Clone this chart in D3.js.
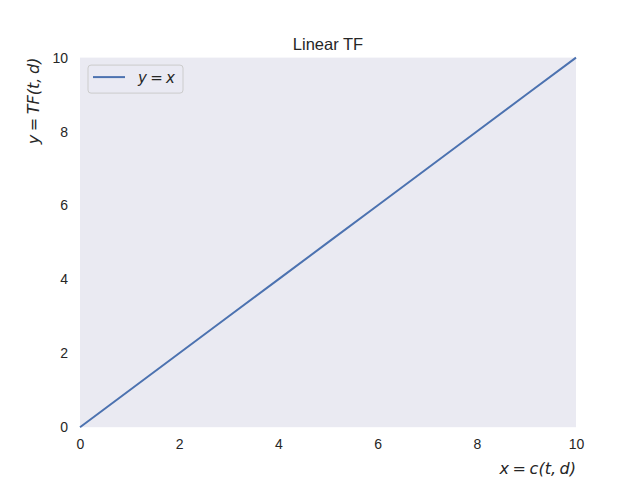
<!DOCTYPE html>
<html lang="en">
<head>
    <meta charset="UTF-8">
    <title>Linear TF</title>
    <style>
        body { margin: 0; background: #fff; }
        .tick text { font-family: "Liberation Sans", Arial, sans-serif; font-size: 14px; fill: #262626; }
        .math { font-family: "DejaVu Sans", sans-serif; font-style: italic; fill: #262626; word-spacing: -1.5px; }
    </style>
</head>
<body>
    <div id="chart"></div>
    <script src="https://d3js.org/d3.v7.min.js"></script>
    <script>
        // data: y = x
        var xValues = [0, 1, 2, 3, 4, 5, 6, 7, 8, 9, 10];
        var yValues = [0, 1, 2, 3, 4, 5, 6, 7, 8, 9, 10];
        var tickValues = [0, 2, 4, 6, 8, 10];

        var margin = { top: 57.6, right: 64, bottom: 52.8, left: 80 },
            width = 640 - margin.left - margin.right,
            height = 480 - margin.top - margin.bottom;

        var svg = d3.select("#chart")
            .append("svg")
            .attr("width", 640)
            .attr("height", 480);

        var g = svg.append("g")
            .attr("transform", "translate(" + margin.left + "," + margin.top + ")");

        // axes background
        g.append("rect")
            .attr("width", width)
            .attr("height", height)
            .attr("fill", "#eaeaf2");

        var x = d3.scaleLinear().domain([0, 10]).range([0, width]);
        var y = d3.scaleLinear().domain([0, 10]).range([height, 0]);

        var xAxis = g.append("g")
            .attr("transform", "translate(0," + height + ")")
            .call(d3.axisBottom(x).tickValues(tickValues).tickSize(0).tickPadding(12));
        xAxis.select(".domain").remove();

        var yAxis = g.append("g")
            .call(d3.axisLeft(y).tickValues(tickValues).tickSize(0).tickPadding(12));
        yAxis.select(".domain").remove();

        var points = xValues.map(function (d, i) { return [d, yValues[i]]; });

        g.append("path")
            .datum(points)
            .attr("fill", "none")
            .attr("stroke", "#4c72b0")
            .attr("stroke-width", 2)
            .attr("d", d3.line()
                .x(function (d) { return x(d[0]); })
                .y(function (d) { return y(d[1]); }));

        // title
        svg.append("text")
            .attr("x", margin.left + width / 2)
            .attr("y", margin.top - 8)
            .attr("text-anchor", "middle")
            .style("font-family", "'Liberation Sans', Arial, sans-serif")
            .style("font-size", "16.5px")
            .style("fill", "#262626")
            .text("Linear TF");

        // axis labels
        svg.append("text")
            .attr("class", "math")
            .attr("x", margin.left + width)
            .attr("y", 474)
            .attr("text-anchor", "end")
            .style("font-size", "16px")
            .text("x = c(t, d)");

        svg.append("text")
            .attr("class", "math")
            .attr("transform", "translate(39," + margin.top + ") rotate(-90)")
            .attr("text-anchor", "end")
            .style("font-size", "16px")
            .text("y = TF(t, d)");

        // legend
        var legend = g.append("g").attr("transform", "translate(8,7.5)");
        legend.append("rect")
            .attr("width", 95)
            .attr("height", 28)
            .attr("rx", 3)
            .attr("fill", "#eaeaf2")
            .attr("fill-opacity", 0.8)
            .attr("stroke", "#cccccc");
        legend.append("line")
            .attr("x1", 5).attr("x2", 37)
            .attr("y1", 12).attr("y2", 12)
            .attr("stroke", "#4c72b0")
            .attr("stroke-width", 2);
        legend.append("text")
            .attr("class", "math")
            .attr("x", 50)
            .attr("y", 17.5)
            .style("font-size", "15px")
            .text("y = x");
    </script>
</body>
</html>
